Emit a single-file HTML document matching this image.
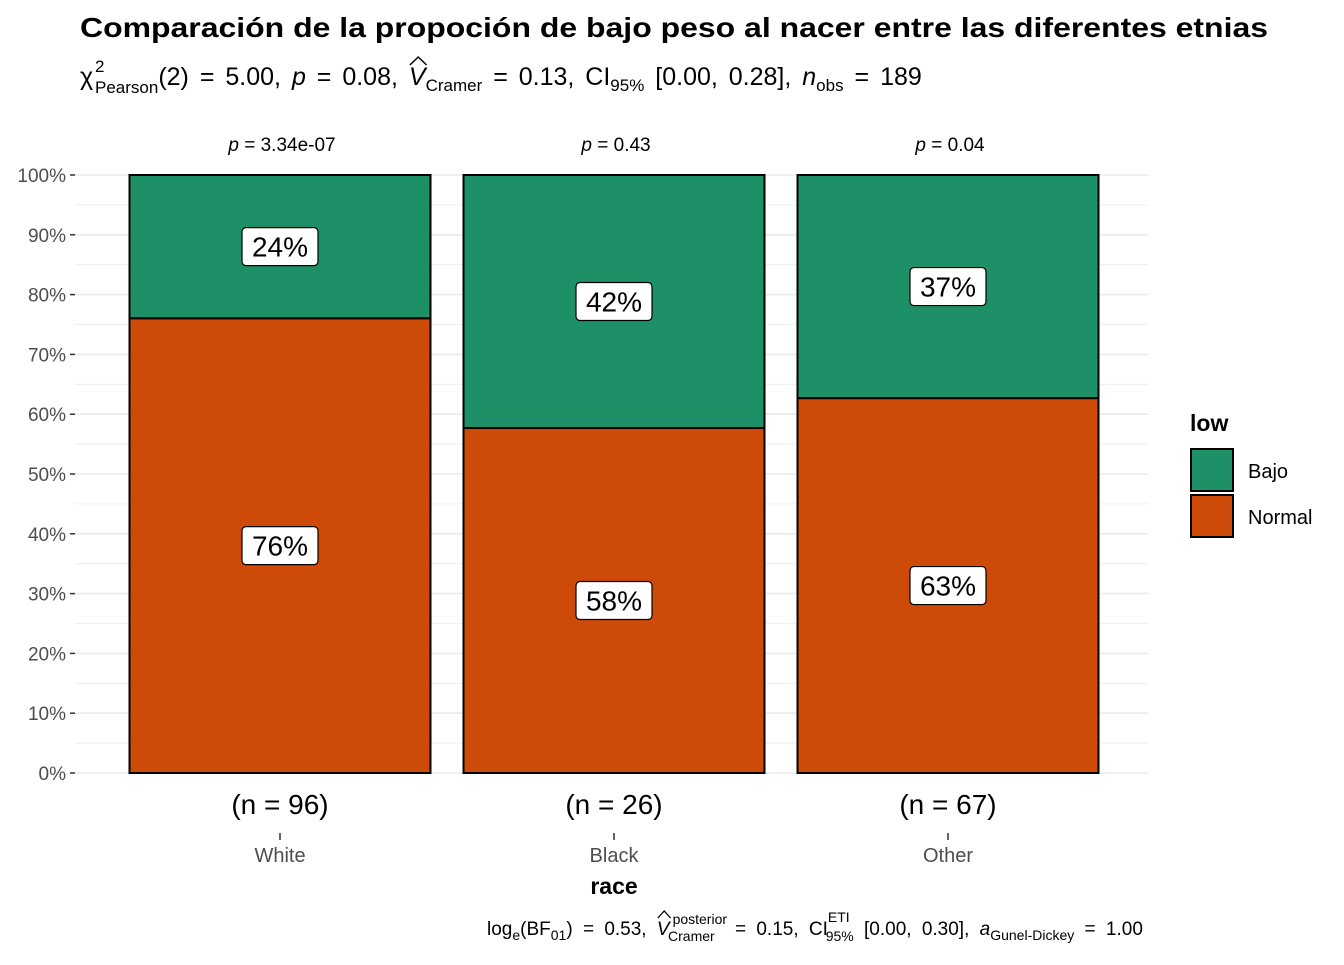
<!DOCTYPE html>
<html><head><meta charset="utf-8"><style>
body{margin:0;background:#fff;font-family:"Liberation Sans",Arial,sans-serif}
svg text{font-family:"Liberation Sans",Arial,sans-serif}
</style></head><body>
<svg id="chart" width="1344" height="960" viewBox="0 0 1344 960" xmlns="http://www.w3.org/2000/svg">
<text x="80" y="37" font-size="28" font-weight="bold" fill="#000" textLength="1188" lengthAdjust="spacingAndGlyphs">Comparación de la propoción de bajo peso al nacer entre las diferentes etnias</text>
<text id="sub" x="80" y="85" font-size="25" fill="#000" word-spacing="4">χ<tspan x="95" y="72" font-size="17">2</tspan><tspan x="95" y="93" font-size="17">Pearson</tspan><tspan y="85">(2) = 5.00, </tspan><tspan font-style="italic">p</tspan><tspan> = 0.08, </tspan><tspan id="v1" font-style="italic">V</tspan><tspan y="91" font-size="17">Cramer</tspan><tspan y="85"> = 0.13, CI</tspan><tspan y="91" font-size="17">95%</tspan><tspan y="85"> [0.00, 0.28], </tspan><tspan font-style="italic">n</tspan><tspan y="91" font-size="17">obs</tspan><tspan y="85"> = 189</tspan></text>
<path id="hat1" d="" fill="none" stroke="#000" stroke-width="1.5"/>
<g id="grid"></g>
<g id="yaxis"></g>
<g id="bars"></g>
<g id="xaxis"></g>
<text x="614" y="894" font-size="23" font-weight="bold" text-anchor="middle">race</text>
<text id="cap" x="487" y="935" font-size="19" word-spacing="5">log<tspan dy="5" font-size="14">e</tspan><tspan dy="-5">(BF</tspan><tspan dy="5" font-size="14">01</tspan><tspan dy="-5">) = 0.53, </tspan><tspan id="v2" font-style="italic">V</tspan><tspan dy="-11" dx="3" font-size="14">posterior</tspan><tspan dy="17" dx="-59" font-size="14">Cramer</tspan><tspan dy="-6" dx="10"> = 0.15, CI</tspan><tspan dy="-13" font-size="14">ETI</tspan><tspan dy="19" dx="-24" font-size="14">95%</tspan><tspan dy="-6"> [0.00, 0.30], </tspan><tspan font-style="italic">a</tspan><tspan dy="5" font-size="14">Gunel-Dickey</tspan><tspan dy="-5"> = 1.00</tspan></text>
<path id="hat2" d="" fill="none" stroke="#000" stroke-width="1.3"/>
<g>
<text x="1190" y="431" font-size="23" font-weight="bold">low</text>
<rect x="1191" y="449" width="42" height="42" fill="#1E9068" stroke="#000" stroke-width="2"/>
<rect x="1191" y="495" width="42" height="42" fill="#CE4A08" stroke="#000" stroke-width="2"/>
<text x="1248" y="478" font-size="20">Bajo</text>
<text x="1248" y="524" font-size="20">Normal</text>
</g>
</svg>
<script>
const categories = ["White","Black","Other"];
const bajoCounts = [23, 11, 25];
const totalCounts = [96, 26, 67];
const pValues = ["3.34e-07","0.43","0.04"];
const yTicks = [0,10,20,30,40,50,60,70,80,90,100];
const NS="http://www.w3.org/2000/svg";
const y0=773, y100=175;
const yS=v=>y0-(y0-y100)*v/100;
const xC=i=>280+i*334;
const bw=301;
function mk(tag,attrs,parent,text){const e=document.createElementNS(NS,tag);for(const k in attrs)e.setAttribute(k,attrs[k]);if(text!==undefined)e.textContent=text;parent.appendChild(e);return e;}
function hat(textId,vId,pathId,top,h){
 const t=document.getElementById(textId);let idx=0;
 for(const n of t.childNodes){ if(n.id===vId)break; idx+=n.textContent.length; }
 try{const b=t.getExtentOfChar(idx);const x=b.x, w=b.width;
 document.getElementById(pathId).setAttribute('d',`M${x+1} ${top+h} L${x+w/2+1} ${top} L${x+w+1} ${top+h}`);}catch(e){}
}
hat('sub','v1','hat1',57,8);
hat('cap','v2','hat2',911,7);
const grid=document.getElementById('grid'),ya=document.getElementById('yaxis'),bars=document.getElementById('bars'),xa=document.getElementById('xaxis');
for(let v=0;v<=100;v+=5){const l=mk('line',{x1:75,x2:1148,y1:yS(v),y2:yS(v),stroke:'#ebebeb','stroke-width':v%10===0?1.6:0.8},grid);

}
yTicks.forEach(v=>{const t=mk('text',{x:66,y:yS(v)+7,'font-size':19,'text-anchor':'end',fill:'#4d4d4d'},ya,v+'%');


const tk=mk('line',{x1:70,x2:75,y1:yS(v),y2:yS(v),stroke:'#333','stroke-width':1.5},ya);

});
function label(x,y,txt){const g=mk('g',{},bars);


const w=76;mk('rect',{x:x-w/2,y:y-19,width:w,height:38,rx:4,fill:'#fff',stroke:'#000','stroke-width':1.2},g);
mk('text',{x:x,y:y+10,'font-size':28,'text-anchor':'middle'},g,txt);}
categories.forEach((c,i)=>{
 const pb=bajoCounts[i]/totalCounts[i]*100, pn=100-pb;
 const x=xC(i)-bw/2;
 const rn=mk('rect',{x:x,y:yS(pn),width:bw,height:yS(0)-yS(pn),fill:'#CE4A08',stroke:'#000','stroke-width':2},bars);
 
 
 const rb=mk('rect',{x:x,y:yS(100),width:bw,height:yS(pn)-yS(100),fill:'#1E9068',stroke:'#000','stroke-width':2},bars);
 
 
 label(xC(i),yS((pn+100)/2),Math.round(pb)+'%');
 label(xC(i),yS(pn/2),Math.round(pn)+'%');
 const p=mk('text',{x:xC(i)+2,y:151,'font-size':19,'text-anchor':'middle'},bars);
 
 
 mk('tspan',{'font-style':'italic'},p,'p');mk('tspan',{},p,' = '+pValues[i]);
 const n=mk('text',{x:xC(i),y:814,'font-size':28,'text-anchor':'middle'},xa,'(n = '+totalCounts[i]+')');
 
 
 const tk=mk('line',{x1:xC(i),x2:xC(i),y1:833,y2:840,stroke:'#333','stroke-width':1.5},xa);
 
 
 const xl=mk('text',{x:xC(i),y:862,'font-size':20,'text-anchor':'middle',fill:'#4d4d4d'},xa,c);
 
 
});
</script>
</body></html>
